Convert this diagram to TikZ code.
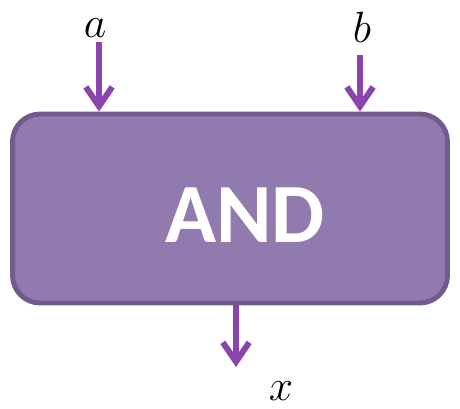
\documentclass[tikz,border=0pt]{standalone}
\usepackage{fontspec}
\newfontfamily\gatefont{Carlito}
\usetikzlibrary{arrows.meta, positioning}
\definecolor{gatefill}{RGB}{145,122,174}
\definecolor{gateborder}{RGB}{112,91,140}
\definecolor{sigpurple}{RGB}{139,68,173}
\tikzset{
    gatebox/.style={rectangle, draw=gateborder, fill=gatefill, line width=2.8pt, rounded corners=0.55cm, minimum width=8.7cm, minimum height=3.78cm},
    gatetext/.style={text=white, font=\gatefont\bfseries\fontsize{48}{58}\selectfont},
    varlabel/.style={inner sep=0pt, font=\fontsize{25}{30}\selectfont},
    sig/.style={draw=sigpurple, line width=3.4pt, -{Straight Barb[length=11pt, width=15pt]}},
}
\begin{document}
\begin{tikzpicture}[x=0.02cm, y=-0.02cm]
    \useasboundingbox (0,0) rectangle (460,409);
    \node[gatebox] (gate) at (230,208.5) {};
    \node[gatetext] (gatename) at (245,215) {AND};
    \node[varlabel] (a) at (95,28) {$a$};
    \node[varlabel] (b) at (362,27) {$b$};
    \node[varlabel] (x) at (281,391) {$x$};
    \coordinate (ina) at (99,42);
    \coordinate (inb) at (360,55);
    \coordinate (outx) at (236,367);
    \draw[sig] (ina) -- (ina |- gate.north);
    \draw[sig] (inb) -- (inb |- gate.north);
    \draw[sig] (outx |- gate.south) -- (outx);
\end{tikzpicture}
\end{document}
